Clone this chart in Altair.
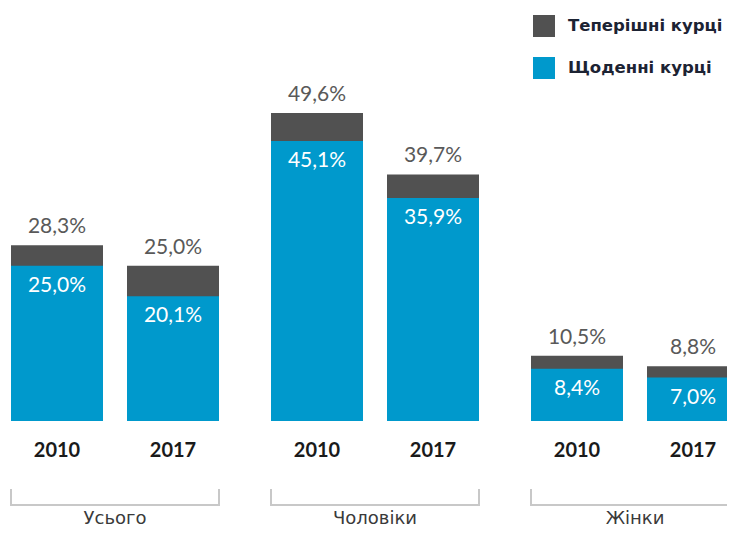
import altair as alt
import pandas as pd

groups = ["Усього", "Усього", "Чоловіки", "Чоловіки", "Жінки", "Жінки"]
group_index = [0, 0, 1, 1, 2, 2]
years = ["2010", "2017", "2010", "2017", "2010", "2017"]
year_index = [0, 1, 0, 1, 0, 1]
current_smokers = [28.3, 25.0, 49.6, 39.7, 10.5, 8.8]
daily_smokers = [25.0, 20.1, 45.1, 35.9, 8.4, 7.0]
series_names = ["Теперішні курці", "Щоденні курці"]
series_colors = ["#515151", "#0099CC"]


def fmt(v):
    return f"{v:.1f}".replace(".", ",") + "%"


df = pd.DataFrame({
    "group": groups,
    "gi": group_index,
    "year": years,
    "yi": year_index,
    "current": current_smokers,
    "daily": daily_smokers,
    "cur_label": [fmt(v) for v in current_smokers],
    "daily_label": [fmt(v) for v in daily_smokers],
    "s_cur": [series_names[0]] * len(groups),
    "s_day": [series_names[1]] * len(groups),
})

# layout constants (in units of one bar step)
STEP_PX = 116.0
GROUP_STEP = 260.0 / STEP_PX
BAR_W = 92.0 / STEP_PX
W = 716
H = 413
PX_PER_UNIT = 6.21
FONT = "Lato"

x_scale = alt.Scale(domain=[0, W / STEP_PX], nice=False, zero=False)
y_scale = alt.Scale(domain=[0, H / PX_PER_UNIT], nice=False)

base = alt.Chart(df).transform_calculate(
    x0=f"datum.gi * {GROUP_STEP} + datum.yi",
).transform_calculate(
    x1=f"datum.x0 + {BAR_W}",
    xc=f"datum.x0 + {BAR_W / 2}",
    gx=f"datum.x0 + {(1 + BAR_W) / 2}",
    gr=f"datum.x0 + {1 + BAR_W}",
)

color_scale = alt.Scale(domain=series_names, range=series_colors)
legend = alt.Legend(
    orient="none", legendX=522, legendY=7, title=None,
    symbolType="square", symbolSize=484, symbolStrokeWidth=0, symbolOpacity=1,
    labelFont="DejaVu Sans", labelFontSize=16.5, labelFontWeight="bold", labelColor="#1c2333",
    labelOffset=13, rowPadding=20, padding=0, labelLimit=300,
)

X = alt.X("x0:Q", scale=x_scale, axis=None)
Y_cur = alt.Y("current:Q", scale=y_scale, axis=None)
Y_day = alt.Y("daily:Q", scale=y_scale, axis=None)
Y0 = alt.Y2(datum=0)

bars_cur = base.mark_bar(clip=True).encode(
    x=X, x2="x1:Q", y=Y_cur, y2=Y0,
    color=alt.Color("s_cur:N", scale=color_scale, legend=legend),
)
bars_day = base.mark_bar(clip=True).encode(
    x=X, x2="x1:Q", y=Y_day, y2=Y0,
    color=alt.Color("s_day:N", scale=color_scale, legend=legend),
)

top_labels = base.mark_text(baseline="middle", dy=-18, fontSize=21, font=FONT, color="#595959").encode(
    x=alt.X("xc:Q", scale=x_scale, axis=None), y=Y_cur, text="cur_label:N",
)
inner_labels = base.mark_text(baseline="middle", dy=20, fontSize=21, font=FONT, color="white").encode(
    x=alt.X("xc:Q", scale=x_scale, axis=None), y=Y_day, text="daily_label:N",
)
year_labels = base.mark_text(baseline="middle", dy=30, fontSize=20, font=FONT,
                             fontWeight="bold", color="#1a1a1a").encode(
    x=alt.X("xc:Q", scale=x_scale, axis=None), y=alt.Y(datum=0, scale=y_scale, axis=None), text="year:N",
)

gbase = base.transform_filter("datum.yi == 0")
group_labels = gbase.mark_text(baseline="middle", dy=98, fontSize=18, font="DejaVu Sans",
                               color="#3a3a3a").encode(
    x=alt.X("gx:Q", scale=x_scale, axis=None), y=alt.Y(datum=0, scale=y_scale, axis=None), text="group:N",
)
bracket_h = gbase.mark_rule(color="#c8c8c8", strokeWidth=2).encode(
    x=alt.X("x0:Q", scale=x_scale, axis=None), x2="gr:Q", y=alt.value(497),
)
bracket_l = gbase.mark_rule(color="#c8c8c8", strokeWidth=2).encode(
    x=alt.X("x0:Q", scale=x_scale, axis=None), y=alt.value(481), y2=alt.value(498),
)
bracket_r = gbase.mark_rule(color="#c8c8c8", strokeWidth=2).encode(
    x=alt.X("gr:Q", scale=x_scale, axis=None), y=alt.value(481), y2=alt.value(498),
)

chart = alt.layer(
    bars_cur, bars_day, top_labels, inner_labels, year_labels,
    bracket_h, bracket_l, bracket_r, group_labels,
).properties(
    width=W, height=H,
    autosize=alt.AutoSizeParams(type="none"),
    padding={"left": 3, "top": 0, "right": 0, "bottom": 108},
).configure_view(stroke=None)

chart.save("out.html", embed_options={"renderer": "svg", "actions": False})
